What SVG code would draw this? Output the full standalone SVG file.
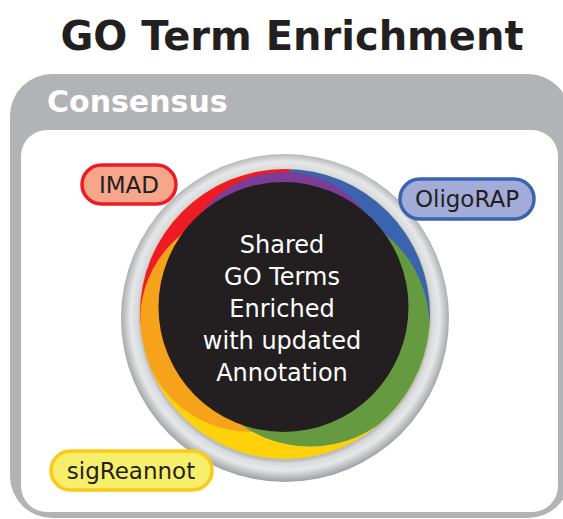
<svg xmlns="http://www.w3.org/2000/svg" width="563" height="519" viewBox="0 0 563 519">
  <style>
    .title { font-family: "DejaVu Sans", "Liberation Sans", sans-serif; font-weight: bold; font-size: 40px; fill: #231f20; }
    .hdr { font-family: "DejaVu Sans", "Liberation Sans", sans-serif; font-weight: bold; font-size: 30px; fill: #ffffff; }
    .core { font-family: "DejaVu Sans", "Liberation Sans", sans-serif; font-size: 24px; fill: #ffffff; text-anchor: middle; }
    .lbl { font-family: "DejaVu Sans", "Liberation Sans", sans-serif; font-size: 23px; fill: #231f20; text-anchor: middle; }
    .pill { stroke-width: 3.5; }
  </style>
  <defs>
    <radialGradient id="ring" gradientUnits="userSpaceOnUse" cx="285" cy="316" r="166">
      <stop offset="0" stop-color="#b9bbbd"/>
      <stop offset="0.87" stop-color="#b9bbbd"/>
      <stop offset="0.89" stop-color="#d9dadc"/>
      <stop offset="0.93" stop-color="#e6e7e8"/>
      <stop offset="0.965" stop-color="#c2c3c5"/>
      <stop offset="1" stop-color="#9c9ea1"/>
    </radialGradient>
    <clipPath id="env">
      <circle cx="285" cy="314" r="145"/>
    </clipPath>
  </defs>

  <text class="title" x="292" y="50" text-anchor="middle">GO Term Enrichment</text>

  <g id="consensus">
    <rect x="10" y="74" width="560" height="444" rx="42" fill="#b1b3b6"/>
    <text class="hdr" x="47" y="112">Consensus</text>
    <rect x="21" y="130" width="537" height="382" rx="26" fill="#ffffff"/>
  </g>

  <g id="shared">
    <circle cx="285" cy="318" r="164" fill="url(#ring)"/>
    <g clip-path="url(#env)">
      <circle cx="285" cy="314" r="160" fill="#fdd20a"/>
      <path d="M285 314 L125.4 325.2 A160 160 0 0 1 290.6 154.1 Z" fill="#ed1c24"/>
      <path d="M285 314 L290.6 154.1 A160 160 0 0 1 444.4 327.9 Z" fill="#3b64b0"/>
      <circle cx="251" cy="321" r="111" fill="#f7a21b"/>
      <circle cx="310" cy="327" r="119.5" fill="#659a41"/>
      <circle cx="283.5" cy="275" r="103" fill="#7d3c98"/>
    </g>
    <circle cx="283.5" cy="307" r="125" fill="#231f20"/>
    <text class="core" x="282" y="253">Shared</text>
    <text class="core" x="282" y="285">GO Terms</text>
    <text class="core" x="282" y="317">Enriched</text>
    <text class="core" x="282" y="349">with updated</text>
    <text class="core" x="282" y="381">Annotation</text>
  </g>

  <g id="imad">
    <rect class="pill" x="82" y="165" width="94" height="39" rx="19.5" fill="#f6a68b" stroke="#ed1c24"/>
    <text class="lbl" x="129" y="193">IMAD</text>
  </g>
  <g id="oligorap">
    <rect class="pill" x="400" y="179" width="134" height="40" rx="20" fill="#a3acd8" stroke="#3b64b0"/>
    <text class="lbl" x="467" y="207">OligoRAP</text>
  </g>
  <g id="sigreannot">
    <rect class="pill" x="51" y="451" width="161" height="39" rx="19.5" fill="#f7ef6c" stroke="#fcc917"/>
    <text class="lbl" x="131" y="479">sigReannot</text>
  </g>

  <g id="connectors"/>
</svg>
